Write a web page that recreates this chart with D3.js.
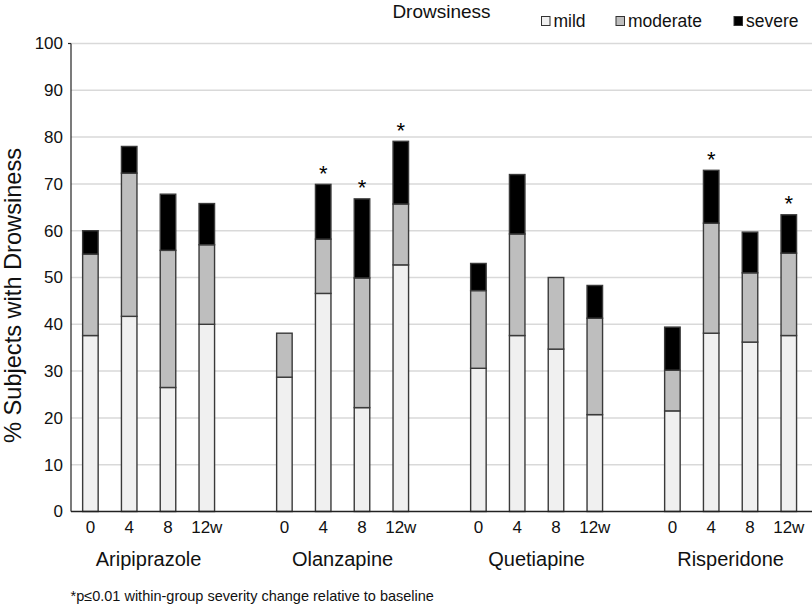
<!DOCTYPE html>
<html>
<head>
<meta charset="utf-8">
<script src="https://cdn.jsdelivr.net/npm/d3@7"></script>
<style>
  html, body { margin: 0; padding: 0; background: #fff; }
  svg { display: block; font-family: "Liberation Sans", Arial, Helvetica, sans-serif; }
</style>
</head>
<body>
<svg id="chart" width="812" height="607"></svg>
<script>
const title = "Drowsiness";
const yAxisTitle = "% Subjects with Drowsiness";
const footnote = "*p\u22640.01 within-group severity change relative to baseline";
const drugs = ["Aripiprazole", "Olanzapine", "Quetiapine", "Risperidone"];
const weeks = ["0", "4", "8", "12w"];
const severities = ["mild", "moderate", "severe"];
const yTicks = [0, 10, 20, 30, 40, 50, 60, 70, 80, 90, 100];

// values per drug, per week
const mild     = [[37.6, 41.7, 26.5, 40.0], [28.7, 46.6, 22.2, 52.7], [30.6, 37.6, 34.7, 20.7], [21.5, 38.1, 36.2, 37.6]];
const moderate = [[17.4, 30.6, 29.3, 17.0], [9.4, 11.6, 27.7, 13.0], [16.6, 21.7, 15.3, 20.6], [8.7, 23.5, 14.8, 17.6]];
const severe   = [[5.0, 5.7, 12.0, 8.8], [0.0, 11.7, 16.9, 13.4], [5.8, 12.7, 0.0, 7.0], [9.2, 11.3, 8.7, 8.2]];
const significant = [[false, false, false, false], [false, true, true, true], [false, false, false, false], [false, true, false, true]];

const colors = { mild: "#f0f0f0", moderate: "#bebebe", severe: "#000000" };

const svg = d3.select("#chart");
const mLeft = 71, mBottom = 511.5, mTop = 43.5, mRight = 812;

const y = d3.scaleLinear().domain([0, 100]).range([mBottom, mTop]);
const xGroup = d3.scaleBand().domain(drugs).range([mLeft, mLeft + 20 * 38.8]).padding(0);
const xWeek = d3.scaleBand().domain(weeks).range([0, xGroup.bandwidth() * 4 / 5]).paddingInner(0.6).paddingOuter(0.3);

// gridlines
svg.append("g").selectAll("line").data(yTicks.filter(t => t > 0)).join("line")
  .attr("x1", mLeft).attr("x2", mRight)
  .attr("y1", d => y(d)).attr("y2", d => y(d))
  .attr("stroke", "#d9d9d9").attr("stroke-width", 1.5);

// y axis
const yAxis = d3.axisLeft(y).tickValues(yTicks).tickSize(0).tickPadding(8);
const yg = svg.append("g").attr("transform", `translate(${mLeft},0)`).call(yAxis);
yg.select(".domain").remove();
yg.selectAll("text").attr("font-size", 17).attr("fill", "#111").attr("font-family", "Liberation Sans, Arial, sans-serif");
svg.append("line").attr("x1", mLeft).attr("x2", mLeft).attr("y1", y(100)).attr("y2", mBottom)
  .attr("stroke", "#222").attr("stroke-width", 1.2);
svg.append("line").attr("x1", mLeft - 3).attr("x2", mLeft).attr("y1", y(100)).attr("y2", y(100))
  .attr("stroke", "#222").attr("stroke-width", 1.2);

// build data
const rows = [];
drugs.forEach((drug, g) => {
  weeks.forEach((wk, i) => {
    const vals = { mild: mild[g][i], moderate: moderate[g][i], severe: severe[g][i] };
    let base = 0;
    const segs = [];
    severities.forEach(s => {
      if (vals[s] > 0) segs.push({ key: s, y0: base, y1: base + vals[s] });
      base += vals[s];
    });
    rows.push({ drug, wk, segs, total: base, sig: significant[g][i] });
  });
});

const barG = svg.append("g");
rows.forEach(r => {
  const x0 = xGroup(r.drug) + xWeek(r.wk);
  barG.selectAll(null).data(r.segs).join("rect")
    .attr("x", x0).attr("width", xWeek.bandwidth())
    .attr("y", d => y(d.y1)).attr("height", d => y(d.y0) - y(d.y1))
    .attr("fill", d => colors[d.key])
    .attr("stroke", "#3a3a3a").attr("stroke-width", 1.4);
  if (r.sig) {
    barG.append("text").attr("x", x0 + xWeek.bandwidth() / 2).attr("y", y(r.total) + 11.5 - 15)
      .attr("text-anchor", "middle").attr("font-size", 22).attr("fill", "#000").text("*");
  }
});

// x axis line
svg.append("line").attr("x1", mLeft).attr("x2", mRight).attr("y1", mBottom).attr("y2", mBottom)
  .attr("stroke", "#222").attr("stroke-width", 1.5);

// week tick labels
drugs.forEach(drug => {
  const g = svg.append("g").attr("transform", `translate(${xGroup(drug)},${mBottom})`);
  const ax = d3.axisBottom(xWeek).tickSize(0).tickPadding(0);
  g.call(ax);
  g.select(".domain").remove();
  g.selectAll("text").attr("font-size", 17).attr("fill", "#111").attr("dy", null).attr("y", 21.5)
    .attr("font-family", "Liberation Sans, Arial, sans-serif");
  // group label
  const c = (xWeek(weeks[0]) + xWeek(weeks[weeks.length - 1]) + xWeek.bandwidth()) / 2;
  svg.append("text").attr("x", xGroup(drug) + c).attr("y", 566)
    .attr("text-anchor", "middle").attr("font-size", 20).attr("fill", "#111").text(drug);
});

// title
svg.append("text").attr("x", 441.5).attr("y", 17.5).attr("text-anchor", "middle")
  .attr("font-size", 19).attr("fill", "#111").text(title);

// legend
const legendX = [541.5, 616, 734];
severities.forEach((s, i) => {
  svg.append("rect").attr("x", legendX[i]).attr("y", 16.5).attr("width", 8.5).attr("height", 9)
    .attr("fill", colors[s]).attr("stroke", "#333").attr("stroke-width", 1);
  svg.append("text").attr("x", legendX[i] + 12).attr("y", 26.5)
    .attr("font-size", 17.5).attr("fill", "#111").text(s);
});

// y axis title
svg.append("text").attr("transform", "translate(21,295.5) rotate(-90)")
  .attr("text-anchor", "middle").attr("font-size", 23.6).attr("fill", "#111").text(yAxisTitle);

// footnote
svg.append("text").attr("x", 70.5).attr("y", 600.5)
  .attr("font-size", 14.5).attr("fill", "#111").text(footnote);
</script>
</body>
</html>
